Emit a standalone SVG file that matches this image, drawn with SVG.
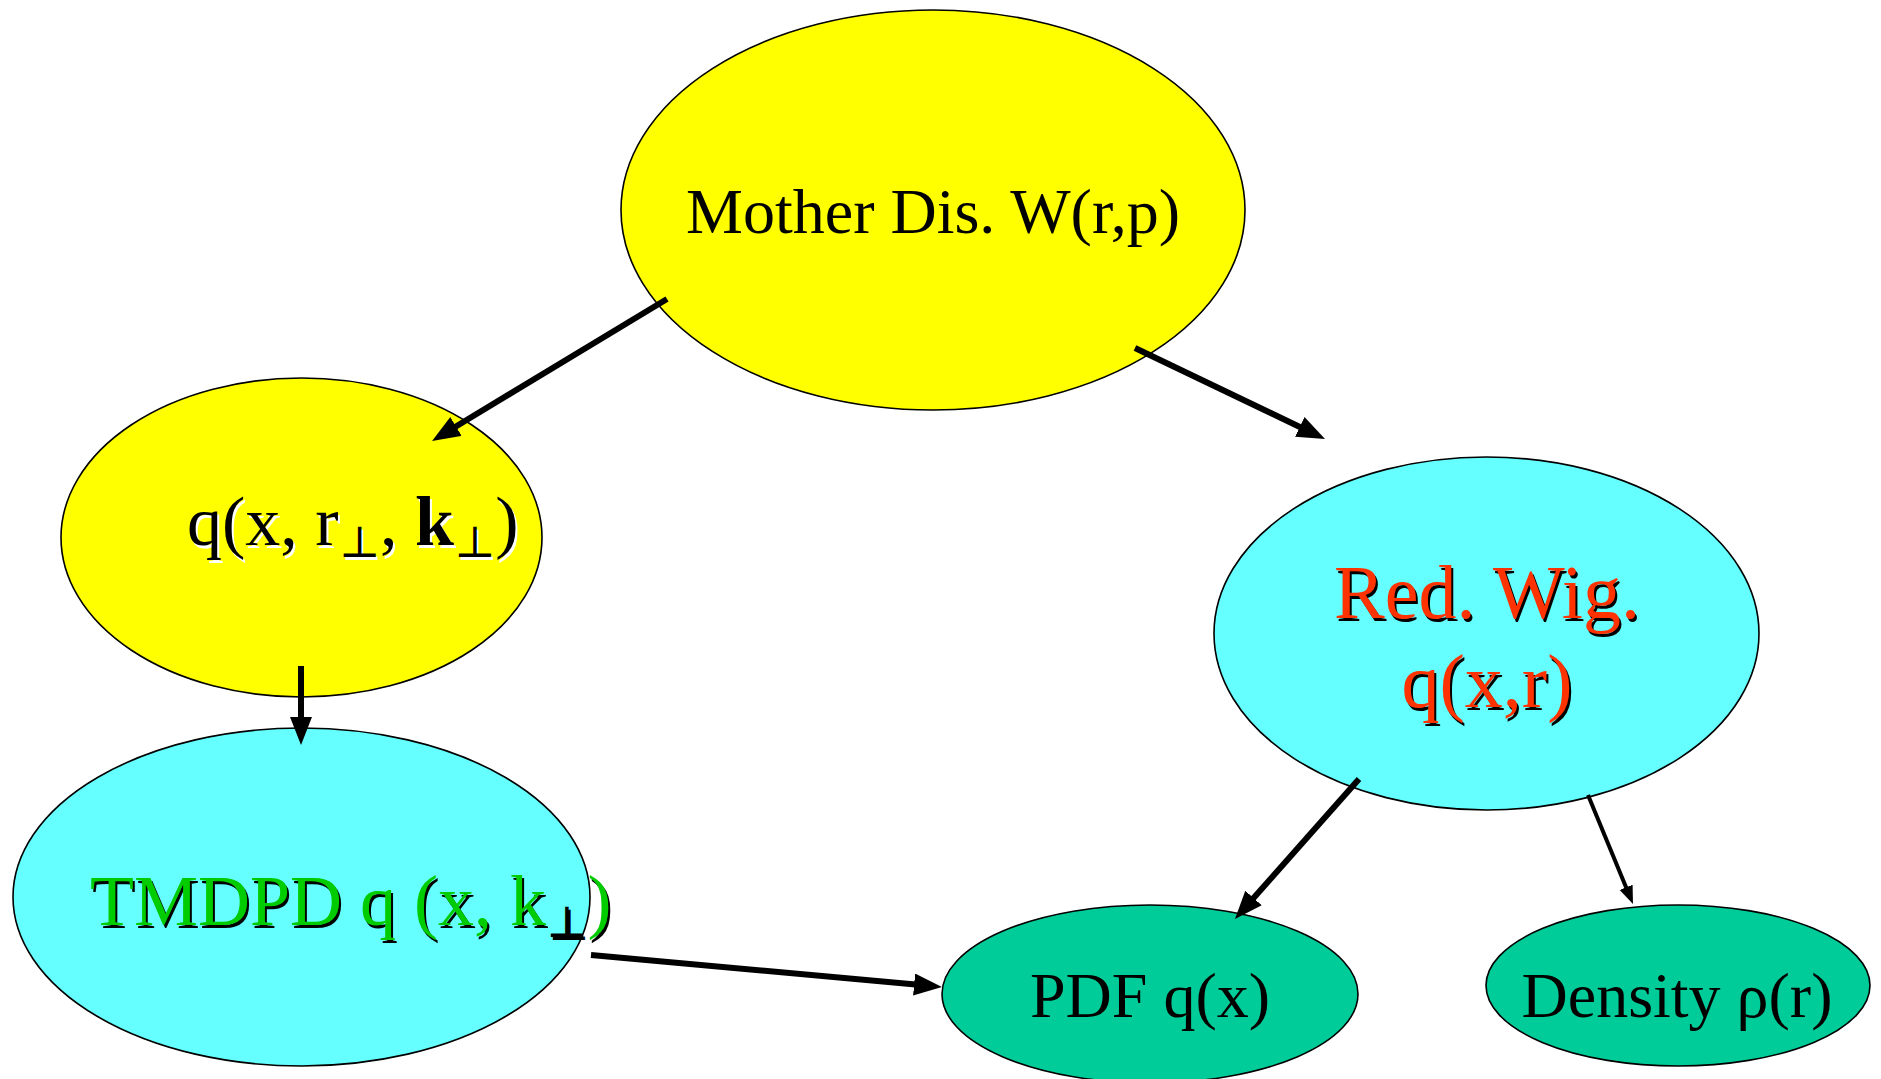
<svg xmlns="http://www.w3.org/2000/svg" width="1881" height="1079" viewBox="0 0 1881 1079">
<defs>
<style>
.node{stroke:#000;stroke-width:1.6}
.yellow{fill:#FFFF00}
.cyan{fill:#66FFFF}
.teal{fill:#00CC99}
text{font-family:"Liberation Serif","Times New Roman","DejaVu Serif",serif}
.t64{font-size:64px}
.t70{font-size:70px}
.t72{font-size:72px}
.t76{font-size:76px}
.sub{font-size:44px}
.conn{stroke:#000;fill:none}
.thick{stroke-width:6}
.thin{stroke-width:4}
</style>
<marker id="ah" markerUnits="userSpaceOnUse" markerWidth="30" markerHeight="24" refX="18" refY="11" orient="auto">
<path d="M0,0 L28,11 L0,22 z" fill="#000"/>
</marker>
<marker id="ahs" markerUnits="userSpaceOnUse" markerWidth="20" markerHeight="16" refX="12" refY="7" orient="auto">
<path d="M0,0 L18,7 L0,14 z" fill="#000"/>
</marker>
</defs>
<rect width="1881" height="1079" fill="#fff"/>

<g id="node-mother">
<ellipse class="node yellow" cx="933" cy="210" rx="312" ry="200"/>
<text class="t64" x="933" y="233" text-anchor="middle" fill="#000">Mother Dis. W(r,p)</text>
</g>

<g id="node-q">
<ellipse class="node yellow" cx="301.5" cy="537.5" rx="240.5" ry="159.5"/>
<text class="t70" x="189" y="548" fill="#fff">q(x, r<tspan class="sub" dy="12">⊥</tspan><tspan dy="-12">, </tspan><tspan font-weight="bold">k</tspan><tspan class="sub" dy="12">⊥</tspan><tspan dy="-12">)</tspan></text>
<text class="t70" x="187" y="545" fill="#000">q(x, r<tspan class="sub" dy="12">⊥</tspan><tspan dy="-12">, </tspan><tspan font-weight="bold">k</tspan><tspan class="sub" dy="12">⊥</tspan><tspan dy="-12">)</tspan></text>
</g>

<g id="node-tmdpd">
<ellipse class="node cyan" cx="301.5" cy="897" rx="288.5" ry="169"/>
<text class="t72" x="92" y="928" fill="#000">TMDPD q (x, k<tspan class="sub" dy="12">⊥</tspan><tspan dy="-12">)</tspan></text>
<text class="t72" x="90" y="925" fill="#00CC00">TMDPD q (x, k<tspan class="sub" dy="12" fill="#000">⊥</tspan><tspan dy="-12">)</tspan></text>
</g>

<g id="node-redwig">
<ellipse class="node cyan" cx="1486.5" cy="633.5" rx="272.5" ry="176.5"/>
<text class="t76" text-anchor="middle" fill="#000"><tspan x="1489" y="621">Red. Wig.</tspan><tspan x="1489" y="710">q(x,r)</tspan></text>
<text class="t76" text-anchor="middle" fill="#FF3300"><tspan x="1487" y="618">Red. Wig.</tspan><tspan x="1487" y="707">q(x,r)</tspan></text>
</g>

<g id="node-pdf">
<ellipse class="node teal" cx="1150" cy="994" rx="208" ry="89"/>
<text class="t64" x="1150" y="1017" text-anchor="middle" fill="#000">PDF q(x)</text>
</g>

<g id="node-density">
<ellipse class="node teal" cx="1678" cy="985.5" rx="192" ry="80.5"/>
<text class="t64" x="1677" y="1017" text-anchor="middle" fill="#000">Density ρ(r)</text>
</g>

<g id="connectors">
<line class="conn thick" x1="667" y1="299" x2="440.6" y2="435.8" marker-end="url(#ah)"/>
<line class="conn thick" x1="1135" y1="348" x2="1316" y2="434.7" marker-end="url(#ah)"/>
<line class="conn thick" x1="301" y1="666" x2="301" y2="735" marker-end="url(#ah)"/>
<line class="conn thick" x1="591" y1="955" x2="932" y2="986.1" marker-end="url(#ah)"/>
<line class="conn thick" x1="1359" y1="779" x2="1241.6" y2="911.5" marker-end="url(#ah)"/>
<line class="conn thin" x1="1588" y1="795" x2="1630.7" y2="898.5" marker-end="url(#ahs)"/>
</g>
</svg>
